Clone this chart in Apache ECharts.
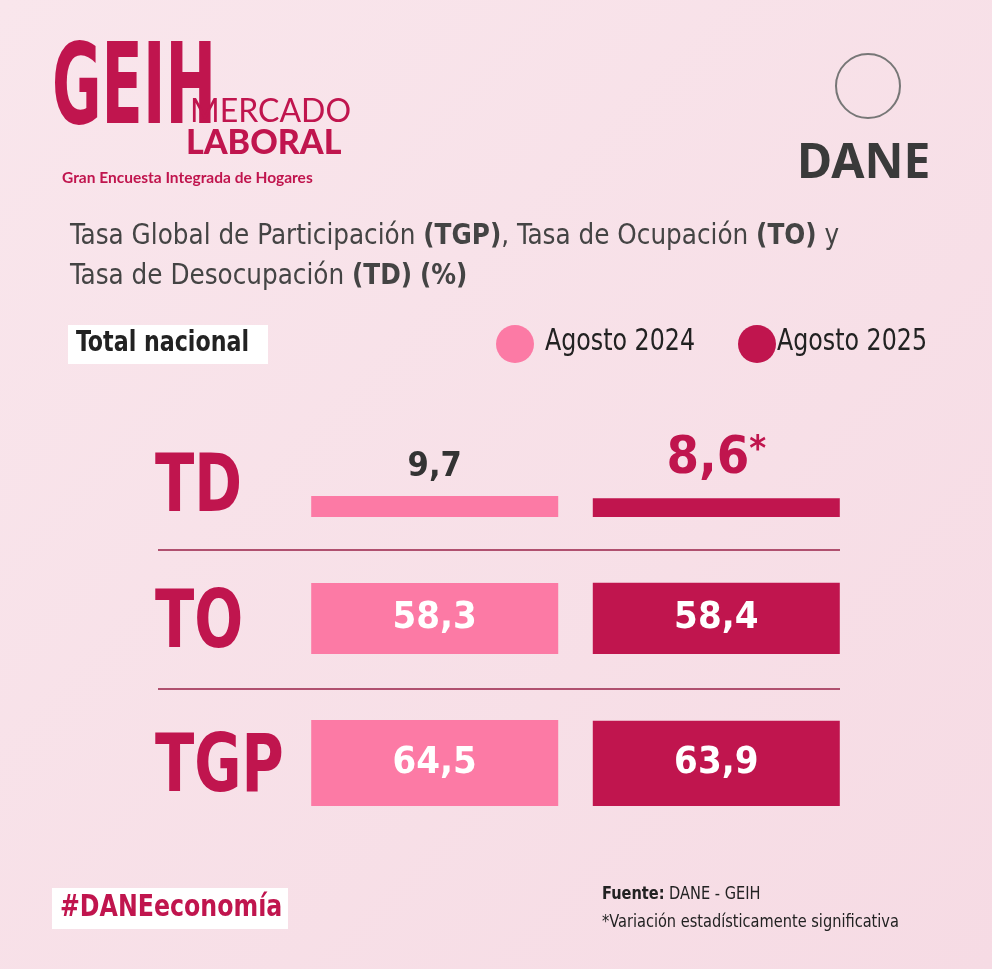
<!DOCTYPE html>
<html>
<head>
<meta charset="utf-8">
<script src="https://cdn.jsdelivr.net/npm/echarts@6/dist/echarts.min.js"></script>
<style>
html,body{margin:0;padding:0;}
#main{width:992px;height:969px;}
</style>
</head>
<body>
<div id="main"></div>
<script>
var rows = ['TD', 'TO', 'TGP'];
var ago2024 = [9.7, 58.3, 64.5];
var ago2025 = [8.6, 58.4, 63.9];
var seriesNames = ['Agosto 2024', 'Agosto 2025'];
var rowMax = [46, 82, 75];
var significant = [true, false, false];

var light = '#fc7aa5';
var dark = '#c0154e';
var cond = '"DejaVu Sans Condensed","Roboto",sans-serif';

function fmt(v){ return String(v).replace('.', ','); }

var chart = echarts.init(document.getElementById('main'));
var grids = [], xAxes = [], yAxes = [], series = [];
var bottoms = [517, 654, 806];
rows.forEach(function(r, i){
    grids.push({left: 311, width: 529, top: bottoms[i] - 100, height: 100});
    xAxes.push({type: 'category', gridIndex: i, data: [r], show: false});
    yAxes.push({type: 'value', gridIndex: i, min: 0, max: rowMax[i], show: false});
    var top = (i === 0);
    series.push({
        name: seriesNames[0], type: 'bar', xAxisIndex: i, yAxisIndex: i,
        data: [ago2024[i]], barWidth: 247, barGap: '14%',
        itemStyle: {color: light},
        label: {show: true, position: top ? 'top' : 'inside', distance: 12,
            formatter: function(p){ return fmt(p.value); },
            color: top ? '#333' : '#fff', fontFamily: cond, fontWeight: 'bold',
            fontSize: top ? 34 : 38}
    });
    series.push({
        name: seriesNames[1], type: 'bar', xAxisIndex: i, yAxisIndex: i,
        data: [ago2025[i]], barWidth: 247,
        itemStyle: {color: dark},
        label: {show: true, position: top ? 'top' : 'inside', distance: 12,
            formatter: function(p){ return fmt(p.value) + (significant[i] ? '{s|*}' : ''); },
            rich: {s: {fontSize: 36, fontWeight: 'bold', color: dark, fontFamily: cond, verticalAlign: 'top', padding: [0,0,18,0]}},
            color: top ? dark : '#fff', fontFamily: cond, fontWeight: 'bold',
            fontSize: top ? 52 : 38}
    });
});

var graphics = [
    // logo
    {type: 'text', x: 52, y: 38, scaleX: 0.6, style: {text: 'GEIH', font: 'bold 112px ' + cond, fill: dark}},
    {type: 'text', x: 190, y: 96, style: {text: 'MERCADO', font: '32px "Lato",sans-serif', fill: dark}},
    {type: 'text', x: 186, y: 126, style: {text: 'LABORAL', font: '900 34px "Lato",sans-serif', fill: dark}},
    {type: 'text', x: 62, y: 170, style: {text: 'Gran Encuesta Integrada de Hogares', font: 'bold 15.5px "Lato",sans-serif', fill: dark}},
    // DANE
    {type: 'circle', shape: {cx: 868, cy: 86, r: 32}, style: {fill: 'none', stroke: '#777', lineWidth: 2}},
    {type: 'text', x: 797, y: 140, style: {text: 'DANE', font: 'bold 48px "Noto Sans",sans-serif', fill: '#3a3a3a'}},
    // title
    {type: 'text', x: 70, y: 217, style: {
        text: 'Tasa Global de Participación {b|(TGP)}, Tasa de Ocupación {b|(TO)} y\nTasa de Desocupación {b|(TD)} {b|(%)}',
        font: '27.5px ' + cond, fill: '#444', lineHeight: 40,
        rich: {b: {font: 'bold 27.5px ' + cond, fill: '#444'}}}},
    // total nacional
    {type: 'rect', shape: {x: 68, y: 325, width: 200, height: 39}, style: {fill: '#fff'}},
    {type: 'text', x: 76, y: 330, scaleX: 0.88, style: {text: 'Total nacional', font: 'bold 28px ' + cond, fill: '#222'}},
    // legend
    {type: 'circle', shape: {cx: 515, cy: 344, r: 19}, style: {fill: light}},
    {type: 'text', x: 545, y: 327, scaleX: 0.88, style: {text: seriesNames[0], font: '30px ' + cond, fill: '#222'}},
    {type: 'circle', shape: {cx: 757, cy: 344, r: 19}, style: {fill: dark}},
    {type: 'text', x: 777, y: 327, scaleX: 0.88, style: {text: seriesNames[1], font: '30px ' + cond, fill: '#222'}},
    // dividers
    {type: 'line', shape: {x1: 158, y1: 550, x2: 840, y2: 550}, style: {stroke: '#b0506f', lineWidth: 2}},
    {type: 'line', shape: {x1: 158, y1: 689, x2: 840, y2: 689}, style: {stroke: '#b0506f', lineWidth: 2}},
    // footer
    {type: 'rect', shape: {x: 52, y: 888, width: 236, height: 41}, style: {fill: '#fff'}},
    {type: 'text', x: 60, y: 892, scaleX: 0.85, style: {text: '#DANEeconomía', font: 'bold 31px ' + cond, fill: dark}},
    {type: 'text', x: 602, y: 880, scaleX: 0.9, style: {text: '{b|Fuente:} DANE - GEIH\n*Variación estadísticamente significativa',
        font: '18px ' + cond, fill: '#222', lineHeight: 28, rich: {b: {font: 'bold 18px ' + cond, fill: '#222'}}}}
];
// row labels
var labelY = [450, 586, 730];
rows.forEach(function(r, i){
    graphics.push({type: 'text', x: 155, y: labelY[i], scaleX: 0.8, style: {text: r, font: 'bold 80px ' + cond, fill: dark}});
});

chart.setOption({
    backgroundColor: new echarts.graphic.LinearGradient(0, 0, 1, 1, [
        {offset: 0, color: '#f9e6ec'}, {offset: 1, color: '#f6dbe4'}]),
    animation: false,
    grid: grids, xAxis: xAxes, yAxis: yAxes, series: series,
    graphic: graphics
});
</script>
</body>
</html>
